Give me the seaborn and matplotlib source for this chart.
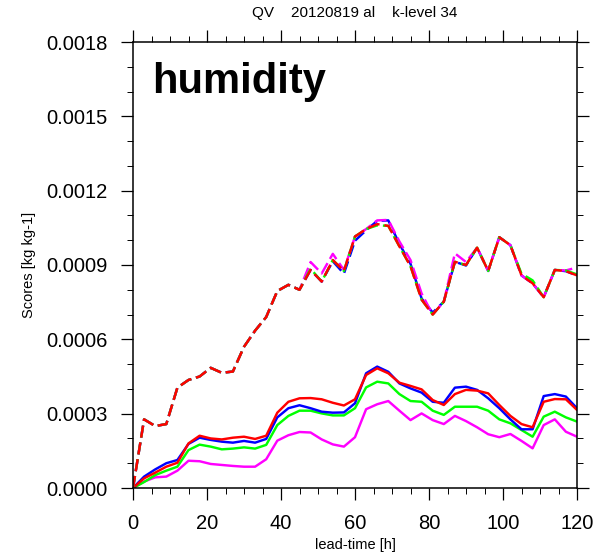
import matplotlib
matplotlib.use("Agg")
import matplotlib.pyplot as plt
import seaborn as sns
from matplotlib.ticker import MultipleLocator, FormatStrFormatter

# ---------------- data ----------------
lead_time = list(range(0, 121, 3))

dash_blue = [0, 0.000277, 0.000250, 0.000258, 0.000405, 0.000436, 0.000450, 0.000485, 0.000465, 0.000470,
             0.000570, 0.000635, 0.000690, 0.000795, 0.000820, 0.000800, 0.000880, 0.000833, 0.000915, 0.000865,
             0.000998, 0.001040, 0.001078, 0.001080, 0.000985, 0.000905, 0.000765, 0.000708, 0.000752, 0.000913,
             0.000898, 0.000970, 0.000876, 0.001012, 0.000980, 0.000858, 0.000826, 0.000770, 0.000880, 0.000875,
             0.000858]
dash_magenta = [0, 0.000277, 0.000250, 0.000258, 0.000405, 0.000436, 0.000450, 0.000485, 0.000465, 0.000470,
                0.000570, 0.000635, 0.000690, 0.000795, 0.000820, 0.000800, 0.000912, 0.000866, 0.000945, 0.000880,
                0.001015, 0.001045, 0.001080, 0.001082, 0.000995, 0.000920, 0.000785, 0.000700, 0.000752, 0.000947,
                0.000912, 0.000970, 0.000876, 0.001012, 0.000980, 0.000858, 0.000826, 0.000770, 0.000880, 0.000878,
                0.000890]
dash_green = [0, 0.000277, 0.000250, 0.000258, 0.000405, 0.000436, 0.000450, 0.000485, 0.000465, 0.000470,
              0.000570, 0.000635, 0.000690, 0.000795, 0.000820, 0.000800, 0.000885, 0.000833, 0.000920, 0.000876,
              0.001015, 0.001045, 0.001060, 0.001058, 0.000975, 0.000895, 0.000760, 0.000700, 0.000752, 0.000913,
              0.000900, 0.000970, 0.000876, 0.001012, 0.000980, 0.000865, 0.000838, 0.000770, 0.000880, 0.000878,
              0.000862]
dash_red = [0, 0.000277, 0.000250, 0.000258, 0.000405, 0.000436, 0.000450, 0.000485, 0.000465, 0.000470,
            0.000570, 0.000635, 0.000690, 0.000795, 0.000820, 0.000800, 0.000880, 0.000833, 0.000920, 0.000876,
            0.001015, 0.001045, 0.001065, 0.001058, 0.000975, 0.000895, 0.000760, 0.000700, 0.000752, 0.000913,
            0.000900, 0.000970, 0.000876, 0.001012, 0.000980, 0.000858, 0.000826, 0.000770, 0.000880, 0.000875,
            0.000858]

solid_magenta = [0, 0.000026, 0.000043, 0.000046, 0.000070, 0.000110, 0.000108, 0.000097, 0.000093, 0.000089,
                 0.000086, 0.000086, 0.000116, 0.000191, 0.000213, 0.000226, 0.000224, 0.000196, 0.000176, 0.000167,
                 0.000205, 0.000318, 0.000338, 0.000351, 0.000312, 0.000274, 0.000301, 0.000274, 0.000258, 0.000291,
                 0.000270, 0.000245, 0.000217, 0.000205, 0.000218, 0.000190, 0.000160, 0.000254, 0.000277, 0.000227,
                 0.000207]
solid_green = [0, 0.000024, 0.000052, 0.000070, 0.000086, 0.000153, 0.000175, 0.000167, 0.000156, 0.000159,
               0.000164, 0.000159, 0.000174, 0.000254, 0.000291, 0.000312, 0.000312, 0.000301, 0.000293, 0.000293,
               0.000322, 0.000406, 0.000429, 0.000422, 0.000379, 0.000351, 0.000348, 0.000312, 0.000295, 0.000328,
               0.000328, 0.000328, 0.000312, 0.000277, 0.000261, 0.000234, 0.000207, 0.000288, 0.000308, 0.000285,
               0.000268]
solid_blue = [0, 0.000046, 0.000075, 0.000100, 0.000113, 0.000178, 0.000203, 0.000194, 0.000187, 0.000183,
              0.000190, 0.000183, 0.000198, 0.000285, 0.000322, 0.000334, 0.000322, 0.000308, 0.000304, 0.000305,
              0.000342, 0.000463, 0.000490, 0.000469, 0.000422, 0.000402, 0.000385, 0.000348, 0.000344, 0.000405,
              0.000409, 0.000396, 0.000362, 0.000322, 0.000277, 0.000237, 0.000237, 0.000371, 0.000379, 0.000369,
              0.000322]
solid_red = [0, 0.000039, 0.000062, 0.000086, 0.000102, 0.000180, 0.000211, 0.000200, 0.000196, 0.000203,
             0.000207, 0.000198, 0.000211, 0.000304, 0.000348, 0.000362, 0.000363, 0.000358, 0.000344, 0.000333,
             0.000358, 0.000456, 0.000483, 0.000463, 0.000425, 0.000412, 0.000398, 0.000355, 0.000335, 0.000379,
             0.000396, 0.000393, 0.000382, 0.000335, 0.000291, 0.000258, 0.000245, 0.000348, 0.000359, 0.000358,
             0.000315]

x_ticks = [0, 20, 40, 60, 80, 100, 120]
y_ticks = [0.0, 0.0003, 0.0006, 0.0009, 0.0012, 0.0015, 0.0018]

title_text = "QV    20120819 al    k-level 34"
panel_label = "humidity"
x_label = "lead-time [h]"
y_label = "Scores [kg kg-1]"

# ---------------- style ----------------
sns.set_style("white")
plt.rcParams["font.family"] = ["Liberation Sans", "DejaVu Sans"]
plt.rcParams["text.color"] = "black"
plt.rcParams["axes.labelcolor"] = "black"

W, H = 609, 554
fig = plt.figure(figsize=(W / 100, H / 100), dpi=100)
ax = fig.add_axes([133 / W, 1 - 488 / H, 444 / W, 446 / H])

lw = 1.75
dash_pat = (5, 2)

solids = [(solid_magenta, "#ff00ff"), (solid_green, "#00ff00"),
          (solid_blue, "#0000ff"), (solid_red, "#ff0000")]
dashed = [(dash_blue, "#0000ff"), (dash_magenta, "#ff00ff"),
          (dash_green, "#00ff00"), (dash_red, "#ff0000")]

for vals, col in solids:
    sns.lineplot(x=lead_time, y=vals, color=col, linewidth=lw, ax=ax)
for vals, col in dashed:
    sns.lineplot(x=lead_time, y=vals, color=col, linewidth=lw,
                 linestyle=(0, dash_pat), ax=ax)

ax.set_xlim(0, 120)
ax.set_ylim(0, 0.0018)
ax.set_xticks(x_ticks)
ax.set_yticks(y_ticks)
ax.xaxis.set_minor_locator(MultipleLocator(5))
ax.yaxis.set_minor_locator(MultipleLocator(0.0001))
ax.yaxis.set_major_formatter(FormatStrFormatter("%.4f"))

for s in ax.spines.values():
    s.set_visible(True)
    s.set_color("black")
    s.set_linewidth(1.1)

ax.tick_params(which="major", direction="out", length=8.5, width=0.9,
               top=True, right=True, bottom=True, left=True,
               labelsize=14.5, pad=10, colors="black")
ax.tick_params(which="minor", direction="out", length=4.2, width=0.7,
               top=True, right=True, bottom=True, left=True, colors="black")

ax.set_xlabel(x_label, fontsize=10.5, labelpad=4)
ax.set_ylabel(y_label, fontsize=10.5, labelpad=7)

fig.text(355 / W, 1 - 13 / H, title_text, ha="center", va="center", fontsize=11, color="black")
fig.text(152 / W, 1 - 93 / H, panel_label,
         fontsize=30, fontweight="bold", ha="left", va="baseline", color="black")

fig.savefig("out.png", dpi=100)
